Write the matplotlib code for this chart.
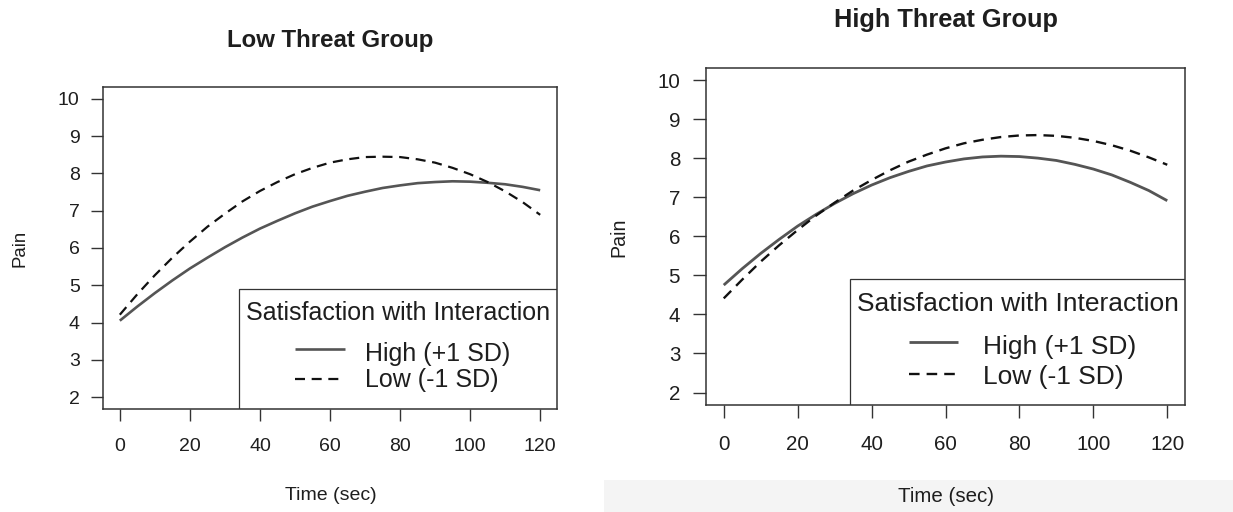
import matplotlib
matplotlib.use('Agg')
import matplotlib.pyplot as plt
from matplotlib.patches import Rectangle
from matplotlib.lines import Line2D

plt.rcParams['font.family'] = ['Liberation Sans', 'DejaVu Sans']

# ---------------- data ----------------
time_sec = [0, 5, 10, 15, 20, 25, 30, 35, 40, 45, 50, 55, 60,
            65, 70, 75, 80, 85, 90, 95, 100, 105, 110, 115, 120]
low_threat_high_sat = [4.05, 4.43, 4.79, 5.13, 5.45, 5.74, 6.02, 6.28, 6.52, 6.73, 6.93, 7.11, 7.26,
                       7.40, 7.51, 7.61, 7.68, 7.74, 7.77, 7.79, 7.78, 7.75, 7.71, 7.64, 7.55]
low_threat_low_sat = [4.21, 4.76, 5.27, 5.74, 6.17, 6.57, 6.92, 7.25, 7.53, 7.77, 7.98, 8.15, 8.29,
                      8.38, 8.44, 8.45, 8.44, 8.38, 8.29, 8.15, 7.98, 7.77, 7.52, 7.23, 6.89]
high_threat_high_sat = [4.75, 5.17, 5.56, 5.92, 6.26, 6.56, 6.84, 7.09, 7.31, 7.50, 7.66, 7.80, 7.90,
                        7.98, 8.03, 8.05, 8.04, 8.00, 7.94, 7.84, 7.72, 7.57, 7.38, 7.17, 6.91]
high_threat_low_sat = [4.41, 4.89, 5.35, 5.77, 6.16, 6.53, 6.86, 7.17, 7.44, 7.69, 7.91, 8.09, 8.25,
                       8.38, 8.47, 8.54, 8.58, 8.59, 8.57, 8.52, 8.44, 8.33, 8.19, 8.02, 7.83]

x_ticks = [0, 20, 40, 60, 80, 100, 120]
y_ticks = [2, 3, 4, 5, 6, 7, 8, 9, 10]
panel_titles = ["Low Threat Group", "High Threat Group"]
x_label = "Time (sec)"
y_label = "Pain"
legend_title = "Satisfaction with Interaction"
legend_labels = ["High (+1 SD)", "Low (-1 SD)"]

W, H = 1233, 512
fig = plt.figure(figsize=(W / 100, H / 100), dpi=100)
fig.patch.set_facecolor('white')


def fx(px):
    return px / W


def fy(py):
    return 1 - py / H


# light grey band under the right screenshot
fig.patches.append(Rectangle((fx(604), 0), 1 - fx(604), fy(480),
                             transform=fig.transFigure, facecolor='#f4f4f4',
                             edgecolor='none', zorder=-5))

TXT = '#1e1e1e'
EDGE = '#333333'
SOLID_C = '#555555'
DASH_C = '#111111'

panels = [
    dict(data=(low_threat_high_sat, low_threat_low_sat), title=panel_titles[0], s=1.0,
         l=103, r=557, t=87, b=409, cx=330.5, title_bl=47.5, ylab=(20, 248), xlab_bl=500,
         leg_l=239, leg_t=289, leg_title=(246, 319.8), samp=(295, 345, 349, 379),
         ent_x=365, ent_bl=(360.5, 387.1), xpad=12.0, ypad=8.2),
    dict(data=(high_threat_high_sat, high_threat_low_sat), title=panel_titles[1], s=1.057,
         l=706, r=1185, t=67.5, b=405, cx=946, title_bl=26.7, ylab=(619, 237), xlab_bl=502.5,
         leg_l=850, leg_t=279, leg_title=(857, 310.7), samp=(909, 958, 341.7, 374),
         ent_x=983, ent_bl=(354.4, 384.4), xpad=12.2, ypad=9.5),
]

for p in panels:
    s = p['s']
    ax = fig.add_axes([fx(p['l']), fy(p['b']), (p['r'] - p['l']) / W, (p['b'] - p['t']) / H])
    hi, lo = p['data']
    ax.plot(time_sec, hi, color=SOLID_C, lw=1.9 * s, solid_capstyle='butt', zorder=3)
    ax.plot(time_sec, lo, color=DASH_C, lw=1.6 * s, dashes=(4.5, 3.0), zorder=3)
    ax.set_xlim(-4.8, 124.8)
    ax.set_ylim(1.68, 10.32)
    ax.set_xticks(x_ticks)
    ax.set_yticks(y_ticks)
    ax.tick_params(direction='out', length=12 * s * 0.72, width=1.0, color=EDGE,
                   labelsize=14 * s, labelcolor=TXT)
    ax.tick_params(axis='x', pad=p['xpad'])
    ax.tick_params(axis='y', pad=p['ypad'])
    for sp in ax.spines.values():
        sp.set_color(EDGE)
        sp.set_linewidth(1.1)

    # legend box (clipped by the plotting region, as in the original)
    lx = (p['leg_l'] - p['l']) / (p['r'] - p['l'])
    ly = (p['b'] - p['leg_t']) / (p['b'] - p['t'])
    ax.add_patch(Rectangle((lx, -0.3), 1.5, ly + 0.3, transform=ax.transAxes,
                           fill=False, edgecolor=EDGE, lw=0.9, clip_on=True, zorder=4))

    fs_leg = 18.0 * s
    fig.text(fx(p['leg_title'][0]), fy(p['leg_title'][1]), legend_title, ha='left',
             va='baseline', fontsize=fs_leg, color=TXT)
    x0, x1, y_solid, y_dash = p['samp']
    fig.add_artist(Line2D([fx(x0), fx(x1)], [fy(y_solid), fy(y_solid)], transform=fig.transFigure,
                          color=SOLID_C, lw=1.9 * s, solid_capstyle='butt'))
    fig.add_artist(Line2D([fx(x0), fx(x1)], [fy(y_dash), fy(y_dash)], transform=fig.transFigure,
                          color=DASH_C, lw=1.6 * s, dashes=(4.5, 3.0)))
    for lab, bl in zip(legend_labels, p['ent_bl']):
        fig.text(fx(p['ent_x']), fy(bl), lab, ha='left', va='baseline', fontsize=fs_leg, color=TXT)

    # titles and axis labels
    fig.text(fx(p['cx']), fy(p['title_bl']), p['title'], ha='center', va='baseline',
             fontsize=17.3 * s, fontweight='bold', color=TXT)
    fig.text(fx(p['cx']), fy(p['xlab_bl']), x_label, ha='center', va='baseline',
             fontsize=14 * s, color=TXT)
    fig.text(fx(p['ylab'][0]), fy(p['ylab'][1]), y_label, ha='center', va='center',
             rotation=90, fontsize=13.4 * s, color=TXT)

fig.savefig('out.png', dpi=100)
